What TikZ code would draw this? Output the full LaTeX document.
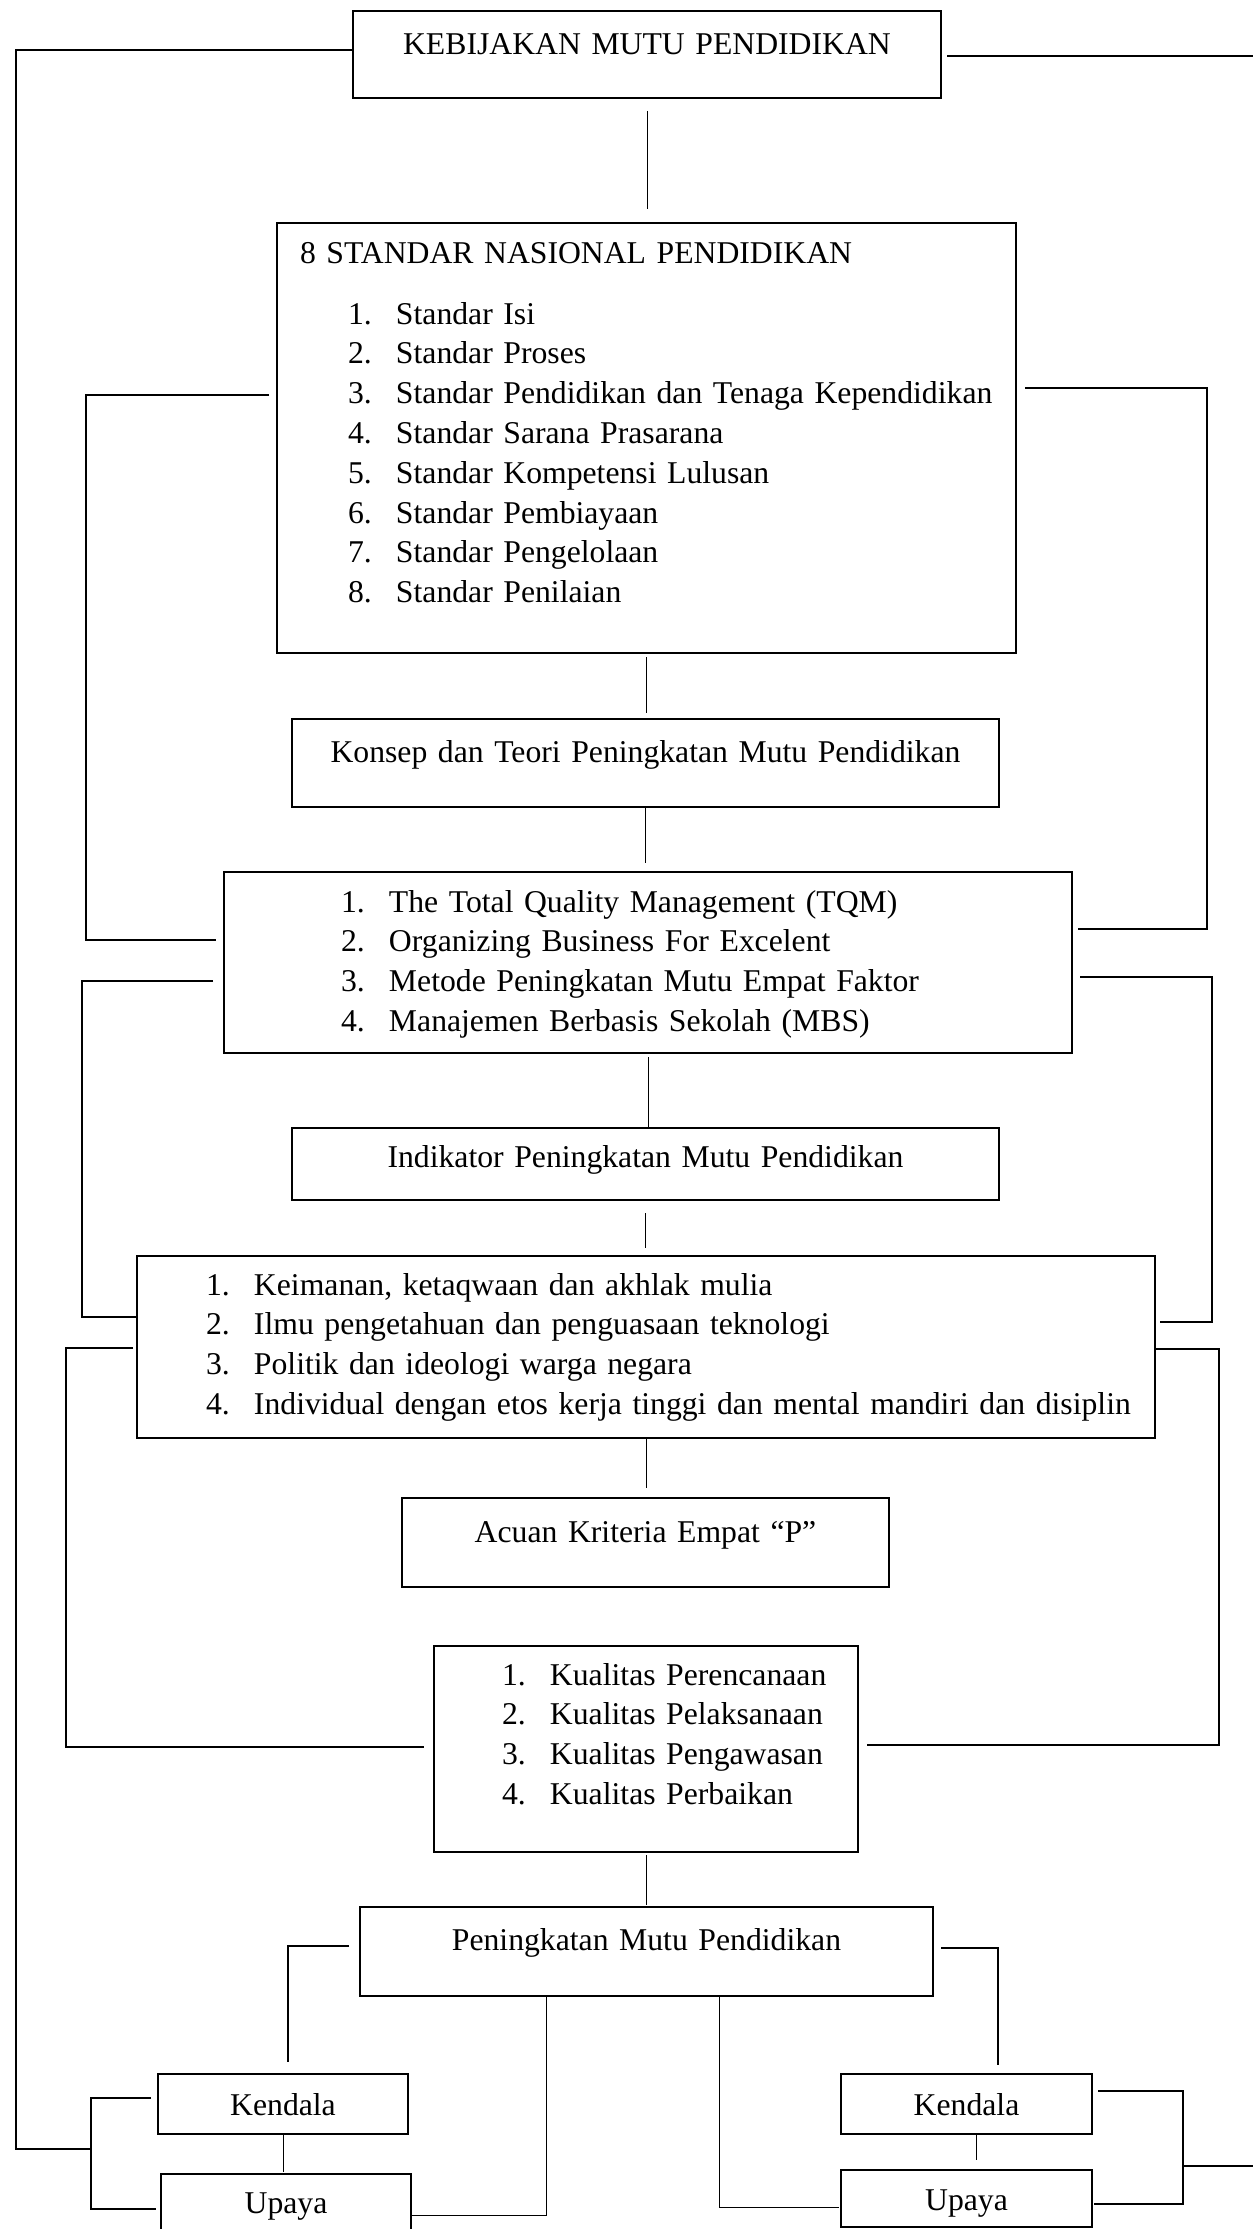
\documentclass[tikz,border=0pt]{standalone}
\usepackage{fontspec}
\setmainfont{Liberation Serif}
\usepackage{tikz}
\newcommand{\numitem}[3]{\hspace*{#1pt}\makebox[48pt][l]{#2.}#3}

\begin{document}
\begin{tikzpicture}[x=1pt,y=-1pt,
  font=\fontsize{31.7pt}{39.8pt}\selectfont,
  box/.style={draw,line width=2.2pt,inner sep=0pt,outer sep=0pt,anchor=north west,align=center},
  listbox/.style={box,align=left},
  wire/.style={line width=1pt},
  rail/.style={line width=1.4pt}]
  \useasboundingbox (0,0) rectangle (1253,2229);

  % boxes down the middle
  \node[box,text width=588pt,text height=44pt,text depth=43pt] (kebijakan) at (353,11) {KEBIJAKAN MUTU PENDIDIKAN};
  \node[listbox,text width=739pt,text height=40pt,text depth=390pt] (standar) at (277,223) {%
    \hspace*{23pt}8 STANDAR NASIONAL PENDIDIKAN\\[21.2pt]
    \numitem{71}{1}{Standar Isi}\\
    \numitem{71}{2}{Standar Proses}\\
    \numitem{71}{3}{Standar Pendidikan dan Tenaga Kependidikan}\\
    \numitem{71}{4}{Standar Sarana Prasarana}\\
    \numitem{71}{5}{Standar Kompetensi Lulusan}\\
    \numitem{71}{6}{Standar Pembiayaan}\\
    \numitem{71}{7}{Standar Pengelolaan}\\
    \numitem{71}{8}{Standar Penilaian}};
  \node[box,text width=707pt,text height=43pt,text depth=45pt] (konsep) at (292,719) {Konsep dan Teori Peningkatan Mutu Pendidikan};
  \node[listbox,text width=848pt,text height=40pt,text depth=141pt] (tqm) at (224,872) {%
    \numitem{117}{1}{The Total Quality Management (TQM)}\\
    \numitem{117}{2}{Organizing Business For Excelent}\\
    \numitem{117}{3}{Metode Peningkatan Mutu Empat Faktor}\\
    \numitem{117}{4}{Manajemen Berbasis Sekolah (MBS)}};
  \node[box,text width=707pt,text height=39pt,text depth=33pt] (indikator) at (292,1128) {Indikator Peningkatan Mutu Pendidikan};
  \node[listbox,text width=1018pt,text height=39pt,text depth=143pt] (nilai) at (137,1256) {%
    \numitem{69}{1}{Keimanan, ketaqwaan dan akhlak mulia}\\
    \numitem{69}{2}{Ilmu pengetahuan dan penguasaan teknologi}\\
    \numitem{69}{3}{Politik dan ideologi warga negara}\\
    \numitem{69}{4}{Individual dengan etos kerja tinggi dan mental mandiri dan disiplin}};
  \node[box,text width=487pt,text height=44pt,text depth=45pt] (acuan) at (402,1498) {Acuan Kriteria Empat “P”};
  \node[listbox,text width=424pt,text height=39pt,text depth=167pt] (kualitas) at (434,1646) {%
    \numitem{68}{1}{Kualitas Perencanaan}\\
    \numitem{68}{2}{Kualitas Pelaksanaan}\\
    \numitem{68}{3}{Kualitas Pengawasan}\\
    \numitem{68}{4}{Kualitas Perbaikan}};
  \node[box,text width=573pt,text height=43pt,text depth=46pt] (peningkatan) at (360,1907) {Peningkatan Mutu Pendidikan};

  % bottom boxes
  \node[box,text width=250pt,text height=41pt,text depth=19pt] (kendalaL) at (158,2074) {Kendala};
  \node[box,text width=250pt,text height=39pt,text depth=21pt] (upayaL) at (161,2174) {Upaya};
  \node[box,text width=251pt,text height=41pt,text depth=19pt] (kendalaR) at (841,2074) {Kendala};
  \node[box,text width=251pt,text height=40pt,text depth=17pt] (upayaR) at (841,2170) {Upaya};

  % spine
  \draw[wire,shorten <=13pt,shorten >=14pt] (kebijakan.south) -- (kebijakan.south |- standar.north);
  \draw[wire,shorten <=4pt,shorten >=6pt] (standar.south) -- (standar.south |- konsep.north);
  \draw[wire,shorten >=9pt] (konsep.south) -- (konsep.south |- tqm.north);
  \draw[wire,shorten <=4pt] (tqm.south) -- (tqm.south |- indikator.north);
  \draw[wire,shorten <=13pt,shorten >=8pt] (indikator.south) -- (indikator.south |- nilai.north);
  \draw[wire,shorten >=10pt] (nilai.south) -- (nilai.south |- acuan.north);
  \draw[wire,shorten <=3pt,shorten >=2pt] (kualitas.south) -- (kualitas.south |- peningkatan.north);

  % rail corners
  \coordinate (kebL) at (16,50);
  \coordinate (kebLb) at (16,2149);
  \coordinate (kebR) at (1253,56);
  \coordinate (kebRb) at (1253,2166);
  \coordinate (stdLa) at (86,395);
  \coordinate (stdLb) at (86,940);
  \coordinate (stdRa) at (1207,388);
  \coordinate (stdRb) at (1207,929);
  \coordinate (tqmLa) at (82,981);
  \coordinate (tqmLb) at (82,1317);
  \coordinate (tqmRa) at (1212,977);
  \coordinate (tqmRb) at (1212,1322);
  \coordinate (nilLa) at (66,1348);
  \coordinate (nilLb) at (66,1747);
  \coordinate (nilRa) at (1219,1349);
  \coordinate (nilRb) at (1219,1745);
  \coordinate (penLa) at (288,1946);
  \coordinate (penLb) at (288,2062);
  \coordinate (penRa) at (998,1948);
  \coordinate (penRb) at (998,2065);
  \coordinate (penDa) at (546,2215);
  \coordinate (penDb) at (719,2207);
  \coordinate (kdlLa) at (91,2098);
  \coordinate (kdlLb) at (91,2209);
  \coordinate (kdlRa) at (1183,2091);
  \coordinate (kdlRb) at (1183,2204);

  % outer rails
  \draw[rail] (kebijakan.west |- kebL) -- (kebL) -- (kebLb) -- (kebLb -| kdlLa);
  \draw[rail,shorten <=6pt] (kebijakan.east |- kebR) -- (kebR);
  \draw[rail] (kdlRa |- kebRb) -- (kebRb);

  % side rails
  \draw[rail,shorten <=8pt,shorten >=8pt] (standar.west |- stdLa) -- (stdLa) -- (stdLb) -- (tqm.west |- stdLb);
  \draw[rail,shorten <=9pt,shorten >=6pt] (standar.east |- stdRa) -- (stdRa) -- (stdRb) -- (tqm.east |- stdRb);
  \draw[rail,shorten <=11pt,shorten >=1pt] (tqm.west |- tqmLa) -- (tqmLa) -- (tqmLb) -- (nilai.west |- tqmLb);
  \draw[rail,shorten <=8pt,shorten >=5pt] (tqm.east |- tqmRa) -- (tqmRa) -- (tqmRb) -- (nilai.east |- tqmRb);
  \draw[rail,shorten <=4pt,shorten >=10pt] (nilai.west |- nilLa) -- (nilLa) -- (nilLb) -- (kualitas.west |- nilLb);
  \draw[rail,shorten <=1pt,shorten >=9pt] (nilai.east |- nilRa) -- (nilRa) -- (nilRb) -- (kualitas.east |- nilRb);

  % bottom rails
  \draw[rail,shorten <=11pt] (peningkatan.west |- penLa) -- (penLa) -- (penLb);
  \draw[rail,shorten <=8pt] (peningkatan.east |- penRa) -- (penRa) -- (penRb);
  \draw[wire,shorten >=1pt] (peningkatan.south -| penDa) -- (penDa) -- (upayaL.east |- penDa);
  \draw[wire,shorten >=2pt] (peningkatan.south -| penDb) -- (penDb) -- (upayaR.west |- penDb);
  \draw[rail,shorten <=7pt,shorten >=5pt] (kendalaL.west |- kdlLa) -- (kdlLa) -- (kdlLb) -- (upayaL.west |- kdlLb);
  \draw[rail,shorten <=6pt,shorten >=2pt] (kendalaR.east |- kdlRa) -- (kdlRa) -- (kdlRb) -- (upayaR.east |- kdlRb);
  \draw[wire,shorten >=2pt] (kendalaL.south) -- (kendalaL.south |- upayaL.north);
  \draw[wire,shorten >=10pt] ([xshift=10pt]kendalaR.south) -- ([xshift=10pt]upayaR.north);
\end{tikzpicture}
\end{document}
